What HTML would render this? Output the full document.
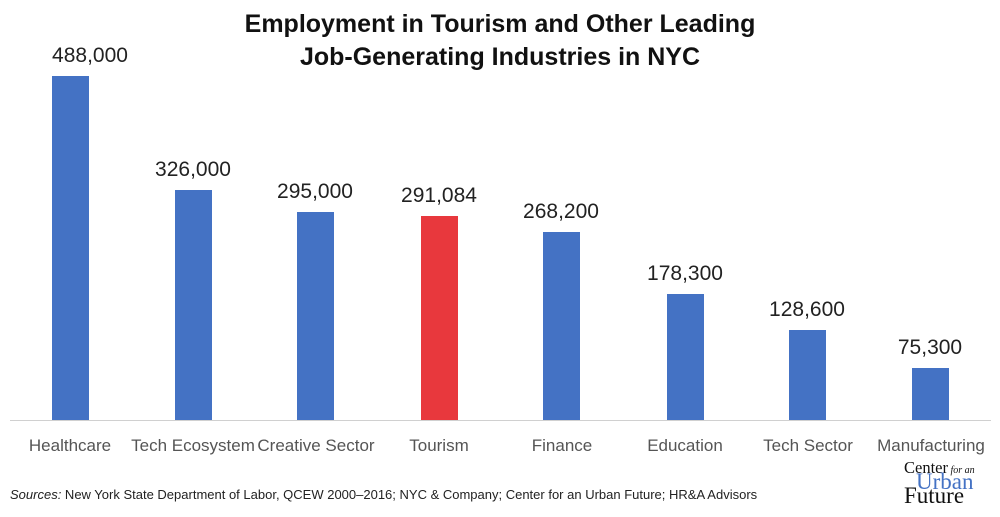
<!DOCTYPE html>
<html><head><style>
body{margin:0;background:#fff;}
.c{position:relative;width:1000px;height:517px;overflow:hidden;font-family:"Liberation Sans",sans-serif;}
.t{position:absolute;left:0;width:1000px;text-align:center;font-size:25px;font-weight:bold;color:#111;top:8px;line-height:33px;}
.b{position:absolute;width:37px;background:#4472c4;}
.v{position:absolute;width:120px;text-align:center;font-size:21px;color:#222;}
.l{position:absolute;width:140px;text-align:center;font-size:17px;color:#555;top:436px;}
</style></head><body><div class="c">
<div class="t">Employment in Tourism and Other Leading<br>Job-Generating Industries in NYC</div>
<div style="position:absolute;left:10px;top:420px;width:981px;height:1px;background:#d0d0d0"></div>

<div class="b" style="left:52px;top:76px;height:344px"></div>
<div class="b" style="left:175px;top:190px;height:230px"></div>
<div class="b" style="left:297px;top:212px;height:208px"></div>
<div class="b" style="left:421px;top:216px;height:204px;background:#e8383d"></div>
<div class="b" style="left:543px;top:232px;height:188px"></div>
<div class="b" style="left:667px;top:294px;height:126px"></div>
<div class="b" style="left:789px;top:330px;height:90px"></div>
<div class="b" style="left:912px;top:368px;height:52px"></div>

<div class="v" style="left:30px;top:44px">488,000</div>
<div class="v" style="left:133px;top:158px">326,000</div>
<div class="v" style="left:255px;top:180px">295,000</div>
<div class="v" style="left:379px;top:184px">291,084</div>
<div class="v" style="left:501px;top:200px">268,200</div>
<div class="v" style="left:625px;top:262px">178,300</div>
<div class="v" style="left:747px;top:298px">128,600</div>
<div class="v" style="left:870px;top:336px">75,300</div>

<div class="l" style="left:0px">Healthcare</div>
<div class="l" style="left:123px">Tech Ecosystem</div>
<div class="l" style="left:246px">Creative Sector</div>
<div class="l" style="left:369px">Tourism</div>
<div class="l" style="left:492px">Finance</div>
<div class="l" style="left:615px">Education</div>
<div class="l" style="left:738px">Tech Sector</div>
<div class="l" style="left:861px">Manufacturing</div>

<div style="position:absolute;left:10px;top:487px;font-size:13px;color:#222"><i>Sources:</i> New York State Department of Labor, QCEW 2000–2016; NYC &amp; Company; Center for an Urban Future; HR&amp;A Advisors</div>

<div style="position:absolute;left:904px;top:460px;font-family:'Liberation Serif',serif;font-size:16.5px;color:#111;line-height:16px">Center<span style="font-size:10px;font-style:italic"> for an</span></div>
<div style="position:absolute;left:916px;top:471px;font-family:'Liberation Serif',serif;font-size:23px;color:#4472c4;line-height:22px">Urban</div>
<div style="position:absolute;left:904px;top:485px;font-family:'Liberation Serif',serif;font-size:23px;color:#111;line-height:22px">Future</div>
</div></body></html>
